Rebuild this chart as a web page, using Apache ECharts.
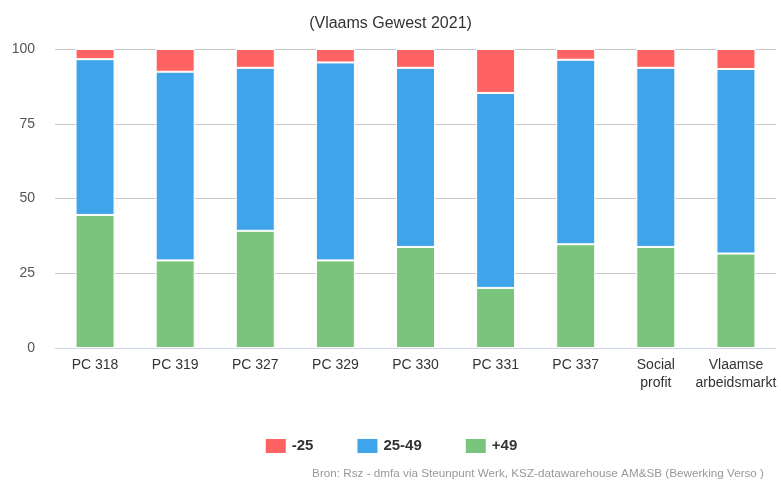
<!DOCTYPE html>
<html><head><meta charset="utf-8">
<script src="https://cdn.jsdelivr.net/npm/echarts@6/dist/echarts.min.js"></script>
<style>html,body{margin:0;padding:0;background:#fff}#c{width:781px;height:481px}</style>
</head><body><div id="c"></div>
<script>
const categories = ['PC 318','PC 319','PC 327','PC 329','PC 330','PC 331','PC 337','Social\nprofit','Vlaamse\narbeidsmarkt'];
const seriesNames = ['-25','25-49','+49'];
const under25 = [3.4, 7.6, 6.3, 4.5, 6.3, 14.7, 3.6, 6.3, 6.7];
const mid25_49 = [52.1, 63.1, 54.5, 66.2, 59.9, 65.2, 61.7, 59.9, 61.7];
const over49 = [44.5, 29.3, 39.2, 29.3, 33.8, 20.1, 34.7, 33.8, 31.6];
const yTicks = [0, 25, 50, 75, 100];
const colors = ['#ff6262', '#40a4eb', '#7bc47e'];

const chart = echarts.init(document.getElementById('c'));
const mk = (name, data, color) => ({
  name, type: 'bar', stack: 'total', data, barWidth: 39,
  itemStyle: { color, borderColor: '#fff', borderWidth: 1 }
});
chart.setOption({
  animation: false,
  title: [{
    text: '(Vlaams Gewest 2021)', left: 'center', top: 11,
    textStyle: { fontFamily: 'Liberation Sans, Arial', fontSize: 16, fontWeight: 'normal', color: '#333' }
  }, {
    text: 'Bron: Rsz - dmfa via Steunpunt Werk, KSZ-datawarehouse AM&SB (Bewerking Verso )',
    right: 12, top: 463,
    textStyle: { fontFamily: 'Liberation Sans, Arial', fontSize: 11.7, fontWeight: 'normal', color: '#999' }
  }],
  legend: {
    data: seriesNames, top: 432, left: 'center', itemWidth: 22, itemHeight: 16, itemGap: 42,
    icon: 'rect',
    textStyle: { fontFamily: 'Liberation Sans, Arial', fontSize: 15, fontWeight: 'bold', color: '#333' }
  },
  grid: { left: 55, right: 5, top: 49, bottom: 133, containLabel: false },
  xAxis: {
    type: 'category', data: categories,
    axisLine: { lineStyle: { color: '#ccd6eb' } },
    axisTick: { alignWithLabel: true, length: 10, lineStyle: { color: '#ccd6eb' } },
    axisLabel: { fontFamily: 'Liberation Sans, Arial', fontSize: 14, color: '#333', margin: 8, interval: 0, lineHeight: 18 }
  },
  yAxis: {
    type: 'value', min: yTicks[0], max: yTicks[yTicks.length - 1], interval: 25,
    axisLine: { show: false }, axisTick: { show: false },
    splitLine: { lineStyle: { color: '#c8c8c8' } },
    axisLabel: { fontFamily: 'Liberation Sans, Arial', fontSize: 14, color: '#555', margin: 20 }
  },
  series: [mk(seriesNames[2], over49, colors[2]), mk(seriesNames[1], mid25_49, colors[1]), mk(seriesNames[0], under25, colors[0])]
});
</script></body></html>
